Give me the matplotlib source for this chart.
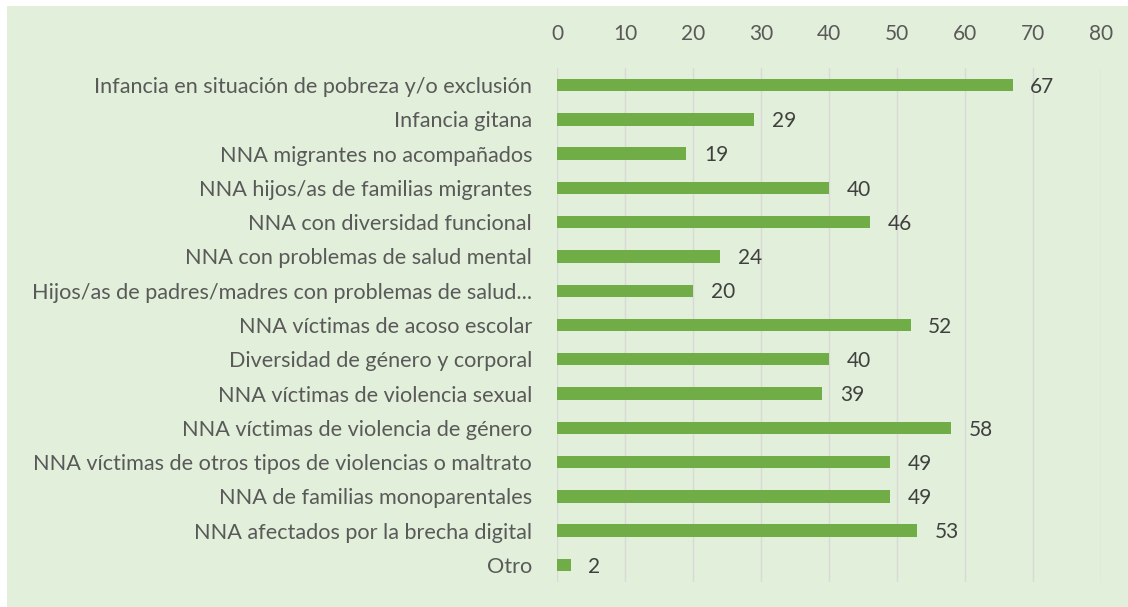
import matplotlib.pyplot as plt

categories = [
    "Infancia en situación de pobreza y/o exclusión",
    "Infancia gitana",
    "NNA migrantes no acompañados",
    "NNA hijos/as de familias migrantes",
    "NNA con diversidad funcional",
    "NNA con problemas de salud mental",
    "Hijos/as de padres/madres con problemas de salud...",
    "NNA víctimas de acoso escolar",
    "Diversidad de género y corporal",
    "NNA víctimas de violencia sexual",
    "NNA víctimas de violencia de género",
    "NNA víctimas de otros tipos de violencias o maltrato",
    "NNA de familias monoparentales",
    "NNA afectados por la brecha digital",
    "Otro",
]
values = [67, 29, 19, 40, 46, 24, 20, 52, 40, 39, 58, 49, 49, 53, 2]
xticks = [0, 10, 20, 30, 40, 50, 60, 70, 80]

bg = "#E2EFDA"
bar_color = "#70AD47"
text_color = "#595959"

plt.rcParams['font.family'] = ['Lato', 'DejaVu Sans']

fig = plt.figure(figsize=(11.28, 6.07), dpi=100)
fig.patch.set_facecolor("white")
# green panel behind the chart
fig.patches.append(plt.Rectangle((7 / 1128, 0), 1, 1 - 6 / 607, transform=fig.transFigure,
                                 facecolor=bg, edgecolor="none", zorder=-10))

ax = fig.add_axes([557 / 1128, 1 - 582 / 607, (1101 - 557) / 1128, (582 - 68) / 607])
ax.set_facecolor("none")

pos = list(range(len(categories)))
ax.barh(pos, values, height=0.36, color=bar_color, zorder=3)
for p, v in zip(pos, values):
    ax.text(v + 2.6, p + 0.05, str(v), va="center", ha="left", fontsize=15, color="#404040")

ax.set_xlim(0, 80)
ax.set_ylim(len(categories) - 0.5, -0.5)
ax.set_xticks(xticks)
ax.set_yticks(pos)
ax.set_yticklabels(categories, fontsize=15.6, color=text_color)
ax.xaxis.tick_top()
ax.tick_params(axis="x", labelsize=15, labelcolor=text_color, length=0, pad=17)
ax.tick_params(axis="y", length=0, pad=18)
ax.grid(axis="x", color="#D9D9D9", linewidth=1, zorder=0)
for s in ax.spines.values():
    s.set_visible(False)

fig.savefig("out.png", dpi=100)
